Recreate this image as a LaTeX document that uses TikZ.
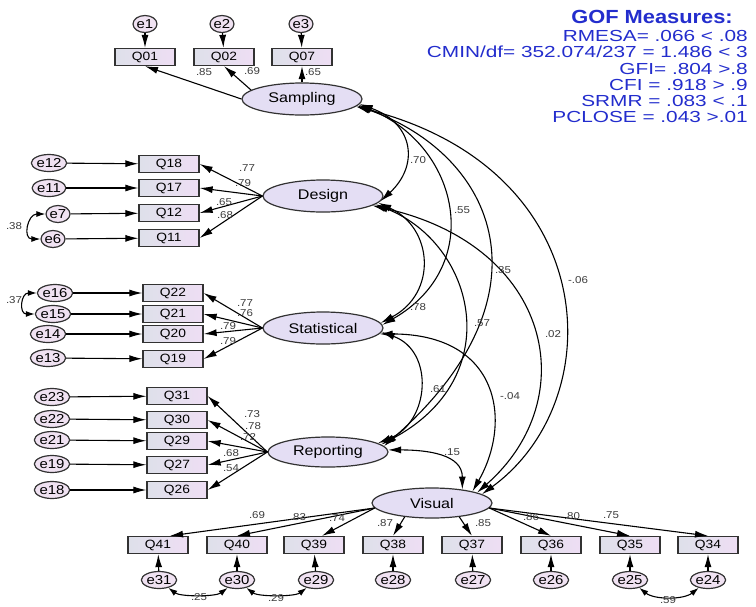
\documentclass[tikz,border=0pt]{standalone}
\usepackage{fontspec}
\setmainfont{Liberation Sans}[FakeStretch=1.15]
\newfontfamily\goffont{Liberation Sans}[FakeStretch=1.3]
\usetikzlibrary{shapes.geometric,arrows.meta,calc}
\definecolor{gofblue}{RGB}{35,45,205}
\definecolor{boxleft}{RGB}{222,224,234}
\definecolor{boxright}{RGB}{238,222,244}
\definecolor{latfill}{RGB}{228,222,244}
\definecolor{errfill}{RGB}{240,226,242}
\definecolor{edge}{RGB}{50,50,50}
\definecolor{lab}{RGB}{60,60,60}
\begin{document}
\begin{tikzpicture}[x=1pt,y=-1pt,
 obs/.style={draw=edge,line width=1.3pt,left color=boxleft,right color=boxright,minimum width=60pt,minimum height=17pt,inner sep=0pt,font=\fontsize{12}{12}\selectfont},
 lat/.style={ellipse,draw=edge,line width=1.2pt,fill=latfill,minimum width=120pt,minimum height=32pt,inner sep=0pt,font=\fontsize{14}{14}\selectfont},
 err/.style={ellipse,draw=edge,line width=1.2pt,fill=errfill,minimum width=24pt,minimum height=17pt,inner sep=0pt,font=\fontsize{13}{13}\selectfont},
 arr/.style={-{Latex[length=13pt,width=7pt]},line width=1.1pt,draw=black},
 cov/.style={{Latex[length=13pt,width=7pt]}-{Latex[length=13pt,width=7pt]},line width=1.1pt,draw=black},
 scov/.style={{Latex[length=9pt,width=6pt]}-{Latex[length=9pt,width=6pt]},line width=1.1pt,draw=black},
 lbl/.style={font=\fontsize{10}{10}\selectfont,text=lab,inner sep=0pt},
 gof/.style={font=\goffont\fontsize{16}{16}\selectfont,text=gofblue,anchor=east,inner sep=0pt}]
\useasboundingbox[fill=white] (0,0) rectangle (756,606);

% ---------- GOF ----------
\node[font=\bfseries\fontsize{19}{19}\selectfont,text=gofblue,inner sep=0pt] (gt) at (652,17) {GOF Measures:};
\node[gof] (g1) at (748,36) {RMESA= .066 < .08};
\node[gof] (g2) at (748,52) {CMIN/df= 352.074/237 = 1.486 < 3};
\node[gof] (g3) at (748,69) {GFI= .804 >.8};
\node[gof] (g4) at (748,85) {CFI = .918 > .9};
\node[gof] (g5) at (748,101) {SRMR = .083 < .1};
\node[gof] (g6) at (748,117) {PCLOSE = .043 >.01};

% ---------- Sampling ----------
\node[err] (e1) at (145,24) {e1};
\node[err] (e2) at (222,24) {e2};
\node[err] (e3) at (301,24) {e3};
\node[obs] (q01) at (145,57) {Q01};
\node[obs] (q02) at (224,57) {Q02};
\node[obs] (q07) at (302,57) {Q07};
\node[lat] (samp) at (302,99) {Sampling};
\draw[arr] (e1) -- (q01);
\draw[arr] (e2) -- (q02);
\draw[arr] (e3) -- (q07);
\draw[arr] (samp.west) -- (q01.south);
\draw[arr] (samp.170) -- (q02.south);
\draw[arr] (samp.north) -- (q07.south);

% ---------- Design ----------
\node[err] (e12) at (49,163) {e12};
\node[err] (e11) at (49,188) {e11};
\node[err] (e7) at (58,214) {e7};
\node[err] (e6) at (53,239) {e6};
\node[obs] (q18) at (169,164) {Q18};
\node[obs] (q17) at (169,188) {Q17};
\node[obs] (q12) at (169,213) {Q12};
\node[obs] (q11) at (169,238) {Q11};
\node[lat] (design) at (323,196) {Design};
\draw[arr] (e12) -- (q18);
\draw[arr] (e11) -- (q17);
\draw[arr] (e7) -- (q12);
\draw[arr] (e6) -- (q11);
\draw[arr] (design.west) -- (q18.east);
\draw[arr] (design.west) -- (q17.east);
\draw[arr] (design.west) -- (q12.east);
\draw[arr] (design.west) -- (q11.east);
\draw[scov] (e7.west) .. controls +(-18,0) and +(-18,0) .. (e6.west);

% ---------- Statistical ----------
\node[err] (e16) at (55,293) {e16};
\node[err] (e15) at (53,314) {e15};
\node[err] (e14) at (48,334) {e14};
\node[err] (e13) at (48,358) {e13};
\node[obs] (q22) at (173,293) {Q22};
\node[obs] (q21) at (173,314) {Q21};
\node[obs] (q20) at (173,334) {Q20};
\node[obs] (q19) at (173,359) {Q19};
\node[lat] (stat) at (323,328) {Statistical};
\draw[arr] (e16) -- (q22);
\draw[arr] (e15) -- (q21);
\draw[arr] (e14) -- (q20);
\draw[arr] (e13) -- (q19);
\draw[arr] (stat.west) -- (q22.east);
\draw[arr] (stat.west) -- (q21.east);
\draw[arr] (stat.west) -- (q20.east);
\draw[arr] (stat.west) -- (q19.east);
\draw[scov] (e16.west) .. controls +(-16,0) and +(-16,0) .. (e15.west);

% ---------- Reporting ----------
\node[err] (e23) at (52,397) {e23};
\node[err] (e22) at (52,419) {e22};
\node[err] (e21) at (52,440) {e21};
\node[err] (e19) at (52,464) {e19};
\node[err] (e18) at (52,490) {e18};
\node[obs] (q31) at (177,396) {Q31};
\node[obs] (q30) at (177,420) {Q30};
\node[obs] (q29) at (177,441) {Q29};
\node[obs] (q27) at (177,465) {Q27};
\node[obs] (q26) at (177,490) {Q26};
\node[lat,minimum height=30pt] (rep) at (328,452) {Reporting};
\draw[arr] (e23) -- (q31);
\draw[arr] (e22) -- (q30);
\draw[arr] (e21) -- (q29);
\draw[arr] (e19) -- (q27);
\draw[arr] (e18) -- (q26);
\draw[arr] (rep.west) -- (q31.east);
\draw[arr] (rep.west) -- (q30.east);
\draw[arr] (rep.west) -- (q29.east);
\draw[arr] (rep.west) -- (q27.east);
\draw[arr] (rep.west) -- (q26.east);

% ---------- Visual ----------
\node[lat,minimum height=30pt] (vis) at (432,503) {Visual};
\node[obs] (q41) at (158,545) {Q41};
\node[obs] (q40) at (237,545) {Q40};
\node[obs] (q39) at (314,545) {Q39};
\node[obs] (q38) at (393,545) {Q38};
\node[obs] (q37) at (472,545) {Q37};
\node[obs] (q36) at (551,545) {Q36};
\node[obs] (q35) at (630,545) {Q35};
\node[obs] (q34) at (708,545) {Q34};
\node[err] (e31) at (159,580) {e31};
\node[err] (e30) at (237,580) {e30};
\node[err] (e29) at (316,580) {e29};
\node[err] (e28) at (393,580) {e28};
\node[err] (e27) at (473,580) {e27};
\node[err] (e26) at (551,580) {e26};
\node[err] (e25) at (630,580) {e25};
\node[err] (e24) at (708,580) {e24};
\draw[arr] (vis.185) -- ($(q41.north)+(12,0)$);
\draw[arr] (vis.185) -- (q40.north);
\draw[arr] (vis.185) -- ($(q39.north)+(8,0)$);
\draw[arr] (vis.207) -- (q38.north);
\draw[arr] (vis.-27) -- (q37.north);
\draw[arr] (vis.-5) -- (q36.north);
\draw[arr] (vis.-5) -- (q35.north);
\draw[arr] (vis.-5) -- (q34.north);
\draw[arr] (e31) -- (q41);
\draw[arr] (e30) -- (q40);
\draw[arr] (e29) -- (q39);
\draw[arr] (e28) -- (q38);
\draw[arr] (e27) -- (q37);
\draw[arr] (e26) -- (q36);
\draw[arr] (e25) -- (q35);
\draw[arr] (e24) -- (q34);
\draw[scov] (e31.-40) .. controls +(12,9) and +(-12,9) .. (e30.-140);
\draw[scov] (e30.-40) .. controls +(12,9) and +(-12,9) .. (e29.-140);
\draw[scov] (e25.-40) .. controls +(15,12) and +(-15,12) .. (e24.-140);

% ---------- factor covariances ----------
\draw[cov] (samp.-5) .. controls +(55,20) and +(38,-35) .. (design.-5);
\draw[cov] (samp.-6) .. controls +(100,40) and +(104,-60) .. (stat.3);
\draw[cov] (samp.-7) .. controls +(140,50) and +(171,-150) .. (rep.6);
\draw[cov] (samp.-8) .. controls +(248,63) and +(129,-94) .. (vis.10);
\draw[cov] (design.-7) .. controls +(55,25) and +(57,-30) .. (stat.5);
\draw[cov] (design.-9) .. controls +(100,40) and +(127,-67) .. (rep.8);
\draw[cov] (design.-11) .. controls +(180,40) and +(107,-94) .. (vis.13);
\draw[cov] (stat.-4) .. controls +(53,19) and +(52,-21) .. (rep.10);
\draw[cov] (stat.-6) .. controls +(120,0) and +(40,-70) .. (vis.16);
\draw[cov] (rep.2) .. controls +(40,0) and +(0,-35) .. (vis.24);

% ---------- labels ----------
\node[lbl] (l1) at (204,72) {.85};
\node[lbl] (l2) at (252,71) {.69};
\node[lbl] (l3) at (313,72) {.65};
\node[lbl] (l4) at (247,168) {.77};
\node[lbl] (l5) at (243,183) {.79};
\node[lbl] (l6) at (224,202) {.65};
\node[lbl] (l7) at (225,215) {.68};
\node[lbl] (l8) at (14,226) {.38};
\node[lbl] (l9) at (245,303) {.77};
\node[lbl] (l10) at (245,313) {.76};
\node[lbl] (l11) at (228,326) {.79};
\node[lbl] (l12) at (228,341) {.79};
\node[lbl] (l13) at (14,300) {.37};
\node[lbl] (l14) at (252,414) {.73};
\node[lbl] (l15) at (253,426) {.78};
\node[lbl] (l16) at (248,437) {.72};
\node[lbl] (l17) at (231,453) {.68};
\node[lbl] (l18) at (231,468) {.54};
\node[lbl] (l19) at (257,515) {.69};
\node[lbl] (l20) at (298,517) {.83};
\node[lbl] (l21) at (337,518) {.74};
\node[lbl] (l22) at (385,523) {.87};
\node[lbl] (l23) at (483,523) {.85};
\node[lbl] (l24) at (531,517) {.86};
\node[lbl] (l25) at (572,516) {.80};
\node[lbl] (l26) at (611,515) {.75};
\node[lbl] (l27) at (199,597) {.25};
\node[lbl] (l28) at (276,598) {.29};
\node[lbl] (l29) at (668,600) {.59};
\node[lbl] (l30) at (418,160) {.70};
\node[lbl] (l31) at (462,210) {.55};
\node[lbl] (l32) at (503,270) {.35};
\node[lbl] (l33) at (578,280) {-.06};
\node[lbl] (l34) at (418,307) {.78};
\node[lbl] (l35) at (482,323) {.57};
\node[lbl] (l36) at (553,334) {.02};
\node[lbl] (l37) at (438,389) {.61};
\node[lbl] (l38) at (510,396) {-.04};
\node[lbl] (l39) at (452,452) {.15};
\end{tikzpicture}
\end{document}
